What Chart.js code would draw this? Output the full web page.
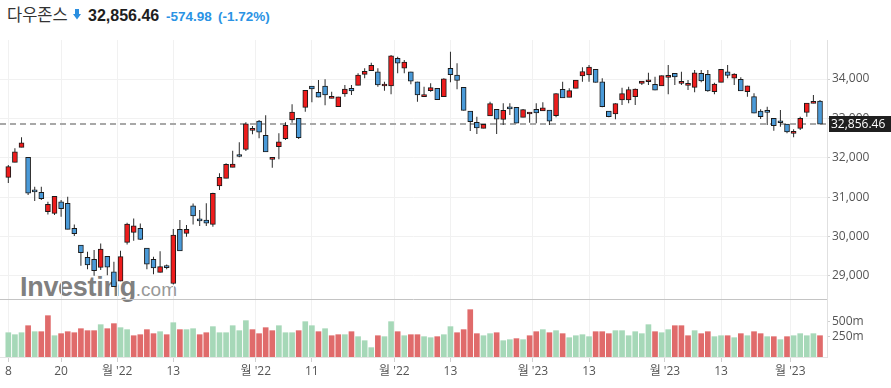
<!DOCTYPE html>
<html>
<head>
<meta charset="utf-8">
<script src="https://cdn.jsdelivr.net/npm/chart.js@4.4.0/dist/chart.umd.min.js"></script>
<style>
  html, body { margin: 0; padding: 0; background: #fff; width: 891px; height: 388px; overflow: hidden; }
  #wrap { position: relative; width: 891px; height: 388px; }
  #hdr { position: absolute; left: 0; top: 0; height: 30px; padding-left: 7px; white-space: nowrap;
         font: 16px 'Liberation Sans', Arial, sans-serif; line-height: 28px; }
  #hdr span { display: inline-block; }
  #name { width: 81px; font-family: 'Noto Sans CJK KR', sans-serif; font-size: 16.5px; color: #333; }
  #last { width: 78px; font-weight: bold; color: #1e1e1e; }
  #chg { width: 52px; font-size: 13.5px; font-weight: bold; color: #2a93e4; }
  #pct { font-size: 13.5px; font-weight: bold; color: #2a93e4; }
  #arrow { position: absolute; left: 73px; top: 9px; }
  #wm { position: absolute; left: 20px; top: 274px; line-height: 27px; white-space: nowrap;
        font-family: 'Liberation Sans', Arial, sans-serif; color: #888; }
  #wm b { font-size: 27px; letter-spacing: -0.3px; color: #808080; }
  #wm span { font-size: 19px; color: #999; }
  canvas { position: absolute; left: 0; top: 0; }
</style>
</head>
<body>
<div id="wrap">
  <div id="hdr"><span id="name">다우존스</span><span id="last">32,856.46</span><span id="chg">-574.98</span><span id="pct">(-1.72%)</span></div>
  <svg id="arrow" width="8" height="11" viewBox="0 0 8 11"><path d="M2 0 H6 V5 H8 L4 10.5 L0 5 H2 Z" fill="#2b8fe0"/></svg>
  <div id="wm"><b>Investing</b><span>.com</span></div>
  <canvas id="chart" width="891" height="388"></canvas>
</div>
<script>
// Dow Jones daily candles, Sep 8 2022 - Mar 7 2023
const opens = [
  31503, 31885, 32265, 32011, 31148, 31122, 30630, 30589, 30884, 30843,
  30208, 29784, 29471, 29420, 29217, 29497, 29105, 28869, 29852, 30106,
  30208, 29708, 29420, 29090, 29250, 28810, 30183, 30081, 30782, 30450,
  30420, 30310, 31284, 31478, 31757, 32062, 32214, 32697, 32933, 32570,
  31960, 32281, 32486, 32959, 33002, 33281, 33822, 33662, 33822, 33510,
  33297, 33619, 33764, 33840, 34119, 34211, 34185, 33822, 33822, 34526,
  34272, 34185, 33931, 33551, 33703, 33764, 33551, 34272, 34102, 33789,
  33187, 32900, 32748, 33060, 33230, 32976, 33281, 33281, 33027, 33111,
  33230, 33187, 33213, 33068, 33738, 33535, 33764, 34076, 34102, 34246,
  33931, 33187, 33111, 33467, 33467, 33551, 33891, 33931, 33865, 33822,
  34043, 34145, 33891, 33840, 33789, 34145, 34119, 33677, 33916, 34185,
  34018, 33992, 33677, 33551, 33187, 33187, 33002, 32916, 32857, 32621,
  32748, 33154, 33383, 33441
];
const highs = [
  31816, 32240, 32519, 32011, 31264, 31264, 30883, 31030, 30927, 31011,
  30310, 29784, 29614, 29657, 29827, 29497, 29359, 29639, 30350, 30462,
  30335, 29708, 29487, 29631, 29290, 30190, 30419, 30292, 30843, 30675,
  30845, 31114, 31607, 31860, 32179, 32392, 32900, 32806, 32959, 33078,
  32011, 32621, 32900, 33357, 33002, 33721, 33822, 33975, 33992, 33677,
  33551, 33848, 33848, 34145, 34272, 34414, 34272, 33931, 34610, 34566,
  34483, 34185, 33931, 33804, 33891, 33764, 34018, 34693, 34399, 33789,
  33187, 33043, 32849, 33425, 33230, 33383, 33383, 33281, 33240, 33154,
  33383, 33408, 33213, 33637, 33931, 33764, 33973, 34297, 34356, 34246,
  34018, 33187, 33383, 33779, 33804, 33760, 33949, 34160, 34058, 34086,
  34356, 34145, 34185, 33975, 34229, 34229, 34229, 33906, 34246, 34356,
  34145, 34043, 33827, 33637, 33230, 33296, 33002, 33213, 32857, 32722,
  33043, 33391, 33594, 33467
];
const lows = [
  31358, 31885, 32265, 31054, 30901, 30927, 30563, 30550, 30503, 30184,
  30012, 29258, 29174, 29004, 29149, 29022, 28726, 28869, 29800, 29893,
  29911, 29174, 29047, 29090, 29170, 28785, 29634, 29994, 30310, 30269,
  30269, 30252, 31183, 31478, 31757, 32011, 32171, 32595, 32494, 32148,
  31747, 31960, 32451, 32890, 32480, 33169, 33408, 33537, 33332, 33510,
  33297, 33551, 33594, 33840, 34018, 34211, 33804, 33703, 33611, 34145,
  34145, 33865, 33423, 33551, 33677, 33476, 33551, 33916, 33738, 33202,
  32679, 32603, 32748, 33060, 32603, 32832, 33086, 32876, 33027, 32890,
  32875, 33187, 32832, 33027, 33518, 33535, 33764, 33931, 33931, 33911,
  33280, 33027, 32976, 33340, 33383, 33340, 33848, 33848, 33717, 33822,
  33611, 33848, 33848, 33721, 33662, 33916, 33677, 33611, 33916, 34018,
  33848, 33697, 33551, 33130, 32984, 32832, 32687, 32788, 32621, 32519,
  32705, 33043, 33383, 32856
];
const closes = [
  31774, 32152, 32381, 31105, 31135, 30962, 30822, 31020, 30706, 30184,
  30077, 29590, 29280, 29135, 29684, 29226, 28726, 29491, 30316, 30274,
  29927, 29297, 29203, 29239, 29211, 30039, 29635, 30186, 30524, 30400,
  30340, 31097, 31505, 31837, 31839, 32033, 32862, 32733, 32653, 32148,
  32001, 32403, 32827, 33161, 32514, 33715, 33748, 33537, 33593, 33554,
  33546, 33746, 33700, 34098, 34194, 34347, 33849, 33853, 34590, 34400,
  34430, 33947, 33596, 33598, 33781, 33476, 34005, 34109, 33966, 33202,
  32920, 32758, 32850, 33376, 32980, 33204, 33242, 32876, 33221, 33147,
  33136, 33270, 32930, 33631, 33518, 33704, 33973, 34190, 34303, 33911,
  33297, 33045, 33375, 33630, 33734, 33744, 33949, 33978, 33717, 34086,
  34093, 34054, 33926, 33891, 34157, 33949, 33700, 33869, 34246, 34089,
  34128, 33697, 33827, 33130, 33045, 33154, 32817, 32889, 32657, 32662,
  33004, 33391, 33431.44, 32856.46
];
// volume, millions
const volumes = [
  320, 287, 320, 437, 337, 337, 604, 270, 304, 337,
  320, 387, 354, 354, 454, 387, 471, 404, 371, 270,
  287, 371, 304, 337, 287, 487, 371, 371, 387, 287,
  320, 421, 320, 320, 437, 354, 521, 371, 304, 404,
  354, 437, 320, 320, 354, 504, 437, 337, 387, 270,
  287, 287, 337, 254, 187, 71, 270, 254, 504, 337,
  270, 287, 287, 254, 237, 254, 287, 421, 320, 371,
  704, 304, 270, 304, 320, 187, 204, 221, 204, 270,
  337, 371, 320, 354, 304, 237, 270, 287, 254, 337,
  337, 304, 354, 354, 270, 337, 304, 454, 337, 320,
  371, 437, 437, 270, 354, 304, 337, 254, 270, 270,
  237, 304, 270, 337, 304, 254, 254, 204, 254, 270,
  304, 270, 304, 270
];
const prevClose = 31581; // close of the session before the first candle
const lastPrice = 32856.46;

const tickIndex = [0, 8, 16.5, 25, 37.5, 46, 58.5, 67, 79.5, 88, 99.5, 108, 118.5];
const tickLabels = ['8', '20', "월 '22", '13', "월 '22", '11', "월 '22", '13', "월 '23", '13', "월 '23", '13', "월 '23"];
const priceTicks = [29000, 30000, 31000, 32000, 33000, 34000];
const volumeTicks = [250, 500];

const UP = '#ee1c1c', DOWN = '#4a9ad8';
const VOL_UP = '#a6d8b8', VOL_DOWN = '#e06b6b';
const VOL_MIN = -85;

const idx = closes.map((_, i) => i);

Chart.defaults.font.family = "'Open Sans', 'Noto Sans CJK KR', sans-serif";
Chart.defaults.font.size = 12;
Chart.defaults.color = '#555';

const lastPricePlugin = {
  id: 'lastPrice',
  beforeDatasetsDraw(chart) {
    const { ctx, chartArea, scales } = chart;
    const py = Math.round(scales.y.getPixelForValue(lastPrice));
    ctx.save();
    ctx.strokeStyle = '#a8a8a8';
    ctx.lineWidth = 2;
    ctx.setLineDash([6, 4]);
    ctx.beginPath();
    ctx.moveTo(chartArea.left, py);
    ctx.lineTo(chartArea.right, py);
    ctx.stroke();
    ctx.restore();
  },
  afterDraw(chart) {
    const { ctx, chartArea, scales } = chart;
    ctx.save();
    // panel separator
    const sy = Math.round(scales.yv.top) + 0.5;
    ctx.strokeStyle = '#c4c4c4';
    ctx.lineWidth = 1;
    ctx.beginPath();
    ctx.moveTo(chartArea.left, sy);
    ctx.lineTo(chartArea.right, sy);
    ctx.stroke();
    // last price tag
    const py = Math.round(scales.y.getPixelForValue(lastPrice));
    ctx.fillStyle = '#1f1f1f';
    ctx.fillRect(chartArea.right + 2, py - 8, chart.width - chartArea.right - 2, 16);
    ctx.fillStyle = '#fff';
    ctx.font = "12px 'Open Sans', sans-serif";
    ctx.textBaseline = 'middle';
    ctx.fillText(lastPrice.toLocaleString('en-US', { minimumFractionDigits: 2 }), chartArea.right + 4, py + 0.5);
    ctx.restore();
  }
};

new Chart(document.getElementById('chart'), {
  type: 'bar',
  data: {
    datasets: [
      {
        label: 'wick',
        data: idx.map(i => ({ x: i, y: [lows[i], highs[i]] })),
        backgroundColor: '#2a2a2a',
        barThickness: 1,
        inflateAmount: 0,
        grouped: false,
        yAxisID: 'y',
        order: 3
      },
      {
        label: 'body',
        data: idx.map(i => ({ x: i, y: [opens[i], closes[i]] })),
        backgroundColor: idx.map(i => closes[i] >= opens[i] ? UP : DOWN),
        borderColor: '#1a1a1a',
        borderWidth: 1,
        borderSkipped: false,
        barThickness: 5,
        minBarLength: 2,
        grouped: false,
        yAxisID: 'y',
        order: 2
      },
      {
        label: 'volume',
        data: idx.map(i => ({ x: i, y: [VOL_MIN, volumes[i]] })),
        backgroundColor: idx.map(i => closes[i] >= (i ? closes[i - 1] : prevClose) ? VOL_UP : VOL_DOWN),
        barThickness: 5,
        grouped: false,
        yAxisID: 'yv',
        order: 1
      }
    ]
  },
  options: {
    responsive: false,
    animation: false,
    devicePixelRatio: 1,
    layout: { padding: { top: 40, left: 0, right: 0, bottom: 0 } },
    plugins: { legend: { display: false }, tooltip: { enabled: false } },
    scales: {
      x: {
        type: 'linear',
        min: -1.26,
        max: 124.06,
        offset: false,
        afterBuildTicks: s => { s.ticks = tickIndex.map(v => ({ value: v })); },
        afterFit: s => { s.height = 31; },
        ticks: {
          autoSkip: false,
          maxRotation: 0,
          padding: 2,
          color: '#555',
          callback: (v, i) => tickLabels[i]
        },
        grid: { offset: false, color: '#f1f1f1', tickLength: 5, tickColor: '#d0d0d0' },
        border: { display: true, color: '#e4e4e4' }
      },
      y: {
        position: 'right',
        stack: 'panels',
        stackWeight: 259,
        min: 28416,
        max: 34990,
        afterBuildTicks: s => { s.ticks = priceTicks.map(v => ({ value: v })); },
        afterFit: s => { s.width = 64; },
        ticks: { padding: 2, color: '#555', callback: v => v.toLocaleString('en-US') },
        grid: { color: '#f1f1f1', tickLength: 3, tickColor: '#d0d0d0' },
        border: { color: '#e0e0e0' }
      },
      yv: {
        position: 'right',
        stack: 'panels',
        stackWeight: 58,
        min: VOL_MIN,
        max: 882,
        afterBuildTicks: s => { s.ticks = volumeTicks.map(v => ({ value: v })); },
        afterFit: s => { s.width = 64; },
        ticks: { padding: 2, color: '#555', callback: v => v + 'm' },
        grid: { drawOnChartArea: false, tickLength: 3, tickColor: '#d0d0d0' },
        border: { color: '#e0e0e0' }
      }
    }
  },
  plugins: [lastPricePlugin]
});
</script>
</body>
</html>
